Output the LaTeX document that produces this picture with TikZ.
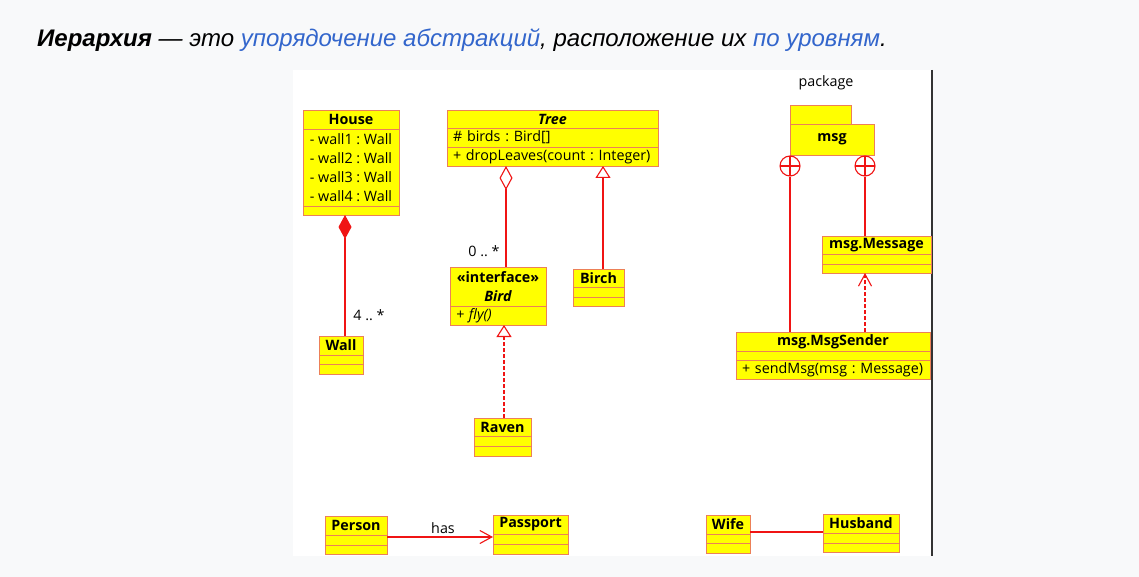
\documentclass[tikz,border=0pt]{standalone}
\usepackage{fontspec}
\setmainfont{Liberation Sans}
\newfontfamily\umlfont{Open Sans}
\usetikzlibrary{arrows.meta}
\frenchspacing

\definecolor{pagebg}{RGB}{248,249,250}
\definecolor{linkblue}{RGB}{51,102,204}
\definecolor{umlyellow}{RGB}{255,255,0}
\definecolor{umlborder}{RGB}{236,128,88}
\definecolor{umlred}{RGB}{240,20,20}

\tikzset{
  umlpart/.style={draw=umlborder, fill=umlyellow, line width=0.8pt, anchor=north west,
    inner sep=0pt, outer sep=0pt},
  umlhead/.style={umlpart, align=center, font=\umlfont\bfseries\fontsize{14.3}{19}\selectfont},
  umlbody/.style={umlpart, inner xsep=6pt, align=left, font=\umlfont\fontsize{14.3}{19}\selectfont},
  umllabel/.style={inner sep=0pt, font=\umlfont\fontsize{14.3}{17}\selectfont},
  link/.style={draw=umlred, line width=1.1pt},
  nest/.style={circle, draw=umlred, line width=1.1pt, fill=white, minimum size=20pt, inner sep=0pt,
    path picture={\draw[umlred, line width=1.1pt]
      (path picture bounding box.north) -- (path picture bounding box.south)
      (path picture bounding box.west) -- (path picture bounding box.east);}}
}

\begin{document}
\begin{tikzpicture}[x=1pt, y=-1pt]
  \useasboundingbox (0,0) rectangle (1139,577);
  % Page and white panel
  \fill[pagebg] (0,0) rectangle (1139,577);
  \fill[white] (293,70) rectangle (931,556);
  \draw[black!80, line width=1.4pt] (932,70) -- (932,556);
  % Heading
  \node[anchor=base west, inner sep=0pt, font=\fontsize{24}{28}\selectfont] (heading) at (37,47)
    {\bfseries\itshape Иерархия\mdseries{} — это \textcolor{linkblue}{упорядочение абстракций}, расположение их \textcolor{linkblue}{по уровням}.};

  % House
  \node[umlhead, minimum width=96pt, minimum height=19pt] (house) at (303,110) {House};
  \node[umlbody, inner xsep=0pt, minimum width=96pt, minimum height=77pt] (house-attr) at (house.south west)
    {- wall1 : Wall\\- wall2 : Wall\\- wall3 : Wall\\- wall4 : Wall};
  \node[umlpart, minimum width=96pt, minimum height=9pt] (house-ops) at (house-attr.south west) {};
  % Wall
  \node[umlhead, minimum width=44pt, minimum height=19pt] (wall) at (319,336) {Wall};
  \node[umlpart, minimum width=44pt, minimum height=9pt] (wall-attr) at (wall.south west) {};
  \node[umlpart, minimum width=44pt, minimum height=10pt] (wall-ops) at (wall-attr.south west) {};

  % Tree
  \node[umlhead, minimum width=211pt, minimum height=18pt] (tree) at (447,110) {\itshape Tree};
  \node[umlbody, text width=199pt, minimum height=19pt] (tree-attr) at (tree.south west) {\# birds : Bird[]};
  \node[umlbody, text width=199pt, minimum height=19pt] (tree-ops) at (tree-attr.south west)
    {+ dropLeaves(count : Integer)};
  % Bird
  \node[umlhead, minimum width=96pt, minimum height=39pt] (bird) at (450,267)
    {«interface»\\\itshape Bird};
  \node[umlbody, text width=84pt, minimum height=19pt] (bird-ops) at (bird.south west) {\itshape + fly()};
  % Birch
  \node[umlhead, minimum width=51pt, minimum height=18pt] (birch) at (573,269) {Birch};
  \node[umlpart, minimum width=51pt, minimum height=10pt] (birch-attr) at (birch.south west) {};
  \node[umlpart, minimum width=51pt, minimum height=9pt] (birch-ops) at (birch-attr.south west) {};
  % Raven
  \node[umlhead, minimum width=57pt, minimum height=18pt] (raven) at (474,418) {Raven};
  \node[umlpart, minimum width=57pt, minimum height=10pt] (raven-attr) at (raven.south west) {};
  \node[umlpart, minimum width=57pt, minimum height=10pt] (raven-ops) at (raven-attr.south west) {};

  % Package msg
  \node[umllabel] (package) at (826,83) {package};
  \node[umlpart, minimum width=61pt, minimum height=19pt] (msg-tab) at (790,105) {};
  \node[umlhead, minimum width=84pt, minimum height=31pt] (msg) at (790,124) {msg};
  \node[nest] (nest1) at (790,166) {};
  \node[nest] (nest2) at (865,166) {};
  % msg.Message
  \node[umlhead, minimum width=109pt, minimum height=18pt] (message) at (822,236) {msg.Message};
  \node[umlpart, minimum width=109pt, minimum height=10pt] (message-attr) at (message.south west) {};
  \node[umlpart, minimum width=109pt, minimum height=9pt] (message-ops) at (message-attr.south west) {};
  % msg.MsgSender
  \node[umlhead, minimum width=194pt, minimum height=19pt] (sender) at (736,332) {msg.MsgSender};
  \node[umlpart, minimum width=194pt, minimum height=9pt] (sender-attr) at (sender.south west) {};
  \node[umlbody, text width=182pt, minimum height=19pt] (sender-ops) at (sender-attr.south west)
    {+ sendMsg(msg : Message)};

  % Person, Passport
  \node[umlhead, minimum width=62pt, minimum height=19pt] (person) at (325,516) {Person};
  \node[umlpart, minimum width=62pt, minimum height=10pt] (person-attr) at (person.south west) {};
  \node[umlpart, minimum width=62pt, minimum height=9pt] (person-ops) at (person-attr.south west) {};
  \node[umlhead, minimum width=75pt, minimum height=19pt] (passport) at (493,515) {Passport};
  \node[umlpart, minimum width=75pt, minimum height=10pt] (passport-attr) at (passport.south west) {};
  \node[umlpart, minimum width=75pt, minimum height=10pt] (passport-ops) at (passport-attr.south west) {};
  % Wife, Husband
  \node[umlhead, minimum width=44pt, minimum height=19pt] (wife) at (706,515) {Wife};
  \node[umlpart, minimum width=44pt, minimum height=9pt] (wife-attr) at (wife.south west) {};
  \node[umlpart, minimum width=44pt, minimum height=10pt] (wife-ops) at (wife-attr.south west) {};
  \node[umlhead, minimum width=76pt, minimum height=19pt] (husband) at (823,514) {Husband};
  \node[umlpart, minimum width=76pt, minimum height=10pt] (husband-attr) at (husband.south west) {};
  \node[umlpart, minimum width=76pt, minimum height=9pt] (husband-ops) at (husband-attr.south west) {};

  % Multiplicities and role names
  \node[umllabel] (mult-wall) at (369,315) {4 .. *};
  \node[umllabel] (mult-bird) at (484,251) {0 .. *};
  \node[umllabel] (has) at (443,528) {has};

  % Connectors
  \coordinate (wall-link) at ([xshift=4pt]wall.north);
  \coordinate (bird-link) at ([xshift=8pt]bird.north);
  \coordinate (birch-link) at ([xshift=4.5pt]birch.north);
  \coordinate (raven-link) at ([xshift=1.5pt]raven.north);
  \coordinate (person-link) at ([yshift=-2pt]person-attr.north east);
  \coordinate (wife-link) at ([yshift=2pt]wife-attr.north east);
  \draw[link, {Diamond[length=24pt,width=13pt]}-] (wall-link |- house-ops.south) -- (wall-link);
  \draw[link, {Diamond[open,length=24pt,width=13pt]}-] (bird-link |- tree-ops.south) -- (bird-link);
  \draw[link, -{Triangle[open,length=12pt,width=15pt]}] (birch-link) -- (birch-link |- tree-ops.south);
  \draw[link, dash pattern=on 4pt off 2pt, -{Triangle[open,length=12pt,width=15pt]}]
    (raven-link) -- (raven-link |- bird-ops.south);
  \draw[link] (nest1 |- sender.north) -- (nest1.south);
  \draw[link] (nest2 |- message.north) -- (nest2.south);
  \draw[link, dash pattern=on 4pt off 2pt, -{Straight Barb[length=12pt,width=13pt]}]
    (nest2 |- sender.north) -- (nest2 |- message-ops.south);
  \draw[link, -{Straight Barb[length=12pt,width=13pt]}] (person-link) -- (person-link -| passport.west);
  \draw[link] (wife-link) -- (wife-link -| husband.west);
\end{tikzpicture}
\end{document}
